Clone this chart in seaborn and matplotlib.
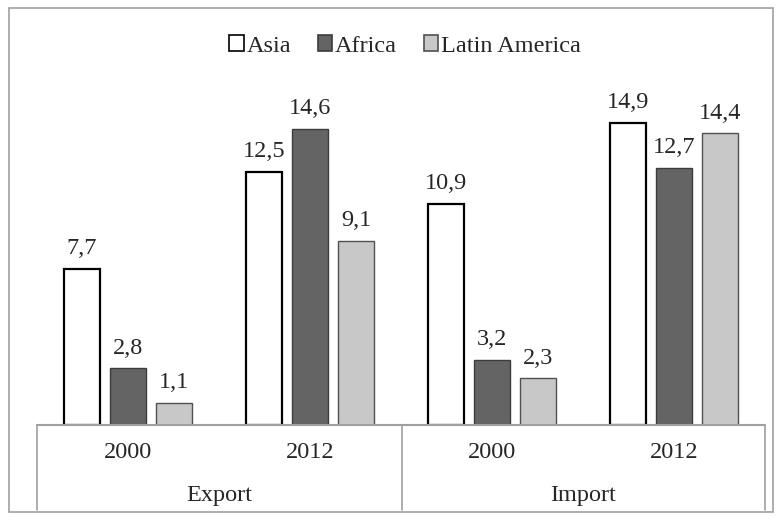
import pandas as pd
import seaborn as sns
import matplotlib.pyplot as plt
from matplotlib.lines import Line2D
from matplotlib.patches import Rectangle, Patch

# ---------------------------------------------------------------
# data
# ---------------------------------------------------------------
groups = ["Export", "Export", "Import", "Import"]
years = ["2000", "2012", "2000", "2012"]
regions = ["Asia", "Africa", "Latin America"]
asia = [7.7, 12.5, 10.9, 14.9]
africa = [2.8, 14.6, 3.2, 12.7]
latin = [1.1, 9.1, 2.3, 14.4]

fills = {"Asia": "#ffffff", "Africa": "#646464", "Latin America": "#c8c8c8"}
edges = {"Asia": "#000000", "Africa": "#3c3c3c", "Latin America": "#505050"}

keys = [g + " " + y for g, y in zip(groups, years)]
rows = []
for name, vals in zip(regions, [asia, africa, latin]):
    for k, v in zip(keys, vals):
        rows.append({"key": k, "region": name, "value": v})
df = pd.DataFrame(rows)

sns.set_style("white")
plt.rcParams["font.family"] = ["Liberation Serif", "DejaVu Serif"]
FS = 17.5

fig = plt.figure(figsize=(7.83, 5.20), dpi=100)
W, H = 783.0, 520.0
PX = 20.26  # pixels per unit
ax = fig.add_axes([37 / W, (H - 425) / H, (765 - 37) / W, (425 - 25) / H])

sns.barplot(data=df, x="key", y="value", hue="region", order=keys,
            hue_order=regions, palette=fills, width=0.76, gap=0.22,
            errorbar=None, legend=False, ax=ax)

for cont, name in zip(ax.containers, regions):
    for bar in cont:
        bar.set_edgecolor(edges[name])
        bar.set_linewidth(1.6 if name == "Asia" else 1.0)
    labels = [f"{b.get_height():.1f}".replace(".", ",") for b in cont]
    ax.bar_label(cont, labels=labels, padding=7, fontsize=FS)

ax.set_ylim(0, 400 / PX)
ax.set_xlim(-0.5, 3.5)
ax.set_xticks([])
ax.set_yticks([])
ax.set_xlabel("")
ax.set_ylabel("")
for s in ax.spines.values():
    s.set_visible(False)

# category axis: baseline, separators, year and group labels
line_c = "#a0a0a0"
fig.add_artist(Line2D([37 / W, 765 / W], [(H - 425) / H] * 2, color=line_c, lw=1.5))
for xp in [37, 402, 765]:
    fig.add_artist(Line2D([xp / W] * 2, [(H - 425) / H, (H - 510) / H], color=line_c, lw=1.2))
for i, y in enumerate(years):
    ax.text(i, -28 / PX, y, ha="center", va="center", fontsize=FS, clip_on=False)
ax.text(0.5, -71 / PX, "Export", ha="center", va="center", fontsize=FS, clip_on=False)
ax.text(2.5, -71 / PX, "Import", ha="center", va="center", fontsize=FS, clip_on=False)

# legend
handles = [Patch(facecolor=fills[r], edgecolor=edges[r], linewidth=1.2) for r in regions]
fig.legend(handles, regions, loc="center", bbox_to_anchor=(405 / W, (H - 46) / H),
           ncol=3, frameon=False, fontsize=FS, handlelength=0.6, handleheight=0.6,
           handletextpad=0.1, columnspacing=1.1)

# outer frame
fig.add_artist(Rectangle((9 / W, 8 / H), (773 - 9) / W, (512 - 8) / H,
                         transform=fig.transFigure, fill=False,
                         edgecolor="#a0a0a0", lw=1.2))

fig.savefig("out.png", dpi=100)
